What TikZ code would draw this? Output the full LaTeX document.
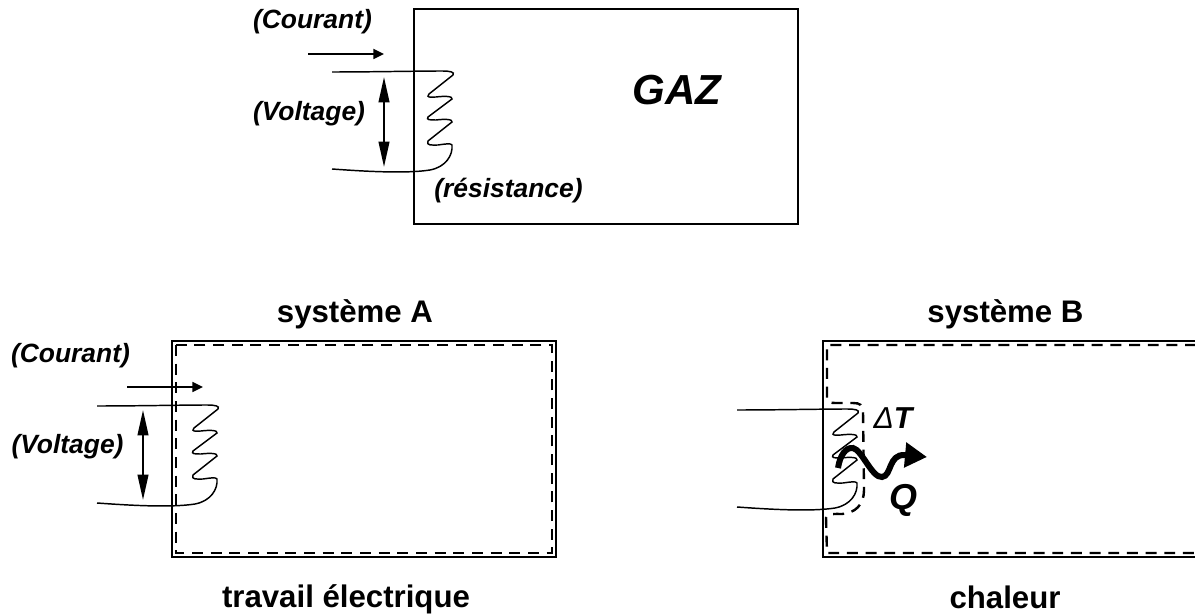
\documentclass[tikz,border=0pt]{standalone}
\usepackage{fontspec}
\setmainfont{Liberation Sans}
\usetikzlibrary{arrows.meta}

\tikzset{
  boxline/.style={line width=1.6pt},
  dashline/.style={line width=1.8pt, dash pattern=on 8.2pt off 5.8pt},
  wire/.style={line width=1.1pt},
  label/.style={font=\bfseries\itshape\fontsize{19.8}{23}\selectfont, inner sep=0pt, anchor=base},
  heading/.style={font=\bfseries\fontsize{23.4}{27}\selectfont, inner sep=0pt, anchor=base},
  flow/.style={-{Triangle[length=8pt,width=7.5pt]}, line width=1.3pt},
  volt/.style={{Triangle[length=19pt,width=8pt]}-{Triangle[length=19pt,width=8pt]}, line width=1.5pt}
}

\begin{document}
\begin{tikzpicture}[x=0.75pt, y=-0.75pt]
\useasboundingbox (0,0) rectangle (1195,616);

% Gas box
\draw[boxline] (414,9) rectangle (798,224);
\node[label, font=\bfseries\itshape\fontsize{31.5}{36}\selectfont] (gaz) at (677,105) {GAZ};
\node[label] (courantgaz) at (312.5,29) {(Courant)};
\node[label] (voltagegaz) at (309,121) {(Voltage)};
\node[label] (resistance) at (508.5,198) {(résistance)};

% System A
\draw[boxline] (172,341) rectangle (556,557);
\draw[dashline] (176,345) rectangle (552,553);
\node[heading] (titrea) at (355,323) {système A};
\node[heading] (legendea) at (346,607) {travail électrique};
\node[label] (couranta) at (70.5,363) {(Courant)};
\node[label] (voltagea) at (67.5,453) {(Voltage)};

% System B
\draw[boxline] (1196,341) -- (823,341) -- (823,557) -- (1196,557);
\draw[dashline] (1196,345) -- (827,345) -- (827,398) .. controls (827,402) and (830,403) .. (835,403)
  -- (853,403) .. controls (860,403) and (863,405) .. (863,412) -- (864,490)
  .. controls (864,505) and (855,513) .. (842,514) .. controls (835,514) and (827,513) .. (826,518)
  -- (827,553) -- (1196,553);
\node[heading] (titreb) at (1005.5,323) {système B};
\node[heading] (legendeb) at (1005,608) {chaleur};
\node[label, font=\bfseries\itshape\fontsize{22.7}{26}\selectfont] (delta) at (893,428) {{\mdseries Δ}T};
\node[label, font=\bfseries\itshape\fontsize{27}{31}\selectfont] (chaleur) at (903.5,509) {Q};

% Heating coils
\foreach \dx/\dy in {0/0,-235/334,405/338}{
  \begin{scope}[shift={(\dx,\dy)}]
    \draw[wire] (332,72) .. controls (370,72) and (420,71) .. (442,71)
      .. controls (450,71) and (455,72) .. (453,75)
      -- (429,94) .. controls (426,98) and (430,97) .. (436,97)
      .. controls (444,96) and (453,96) .. (452,99)
      -- (428,117) .. controls (426,120) and (430,120) .. (436,120)
      .. controls (444,119) and (453,119) .. (452,122)
      -- (428,141) .. controls (426,146) and (432,145) .. (438,145)
      .. controls (445,144) and (451,143) .. (452,145)
      .. controls (453,155) and (446,167) .. (430,170)
      .. controls (405,174) and (360,171) .. (332,169);
  \end{scope}
}

% Current and voltage arrows
\coordinate (ca) at (308,54);
\coordinate (cb) at (384,54);
\draw[flow] (ca) -- (cb);
\coordinate (va) at (384,77);
\coordinate (vb) at (384,167);
\draw[volt] (va) -- (vb);
\coordinate (cc) at (127,387);
\coordinate (cd) at (203,387);
\draw[flow] (cc) -- (cd);
\coordinate (vc) at (143,410);
\coordinate (vd) at (143,500);
\draw[volt] (vc) -- (vd);

% Heat arrow
\draw[line width=4.5pt, -{Triangle[length=16.5pt,width=18pt]}] (838,468) .. controls (840,455) and (846,447) .. (853,448)
  .. controls (862,450) and (872,478) .. (882,477)
  .. controls (892,476) and (888,454) .. (905,455) -- (927,457);
\end{tikzpicture}
\end{document}
